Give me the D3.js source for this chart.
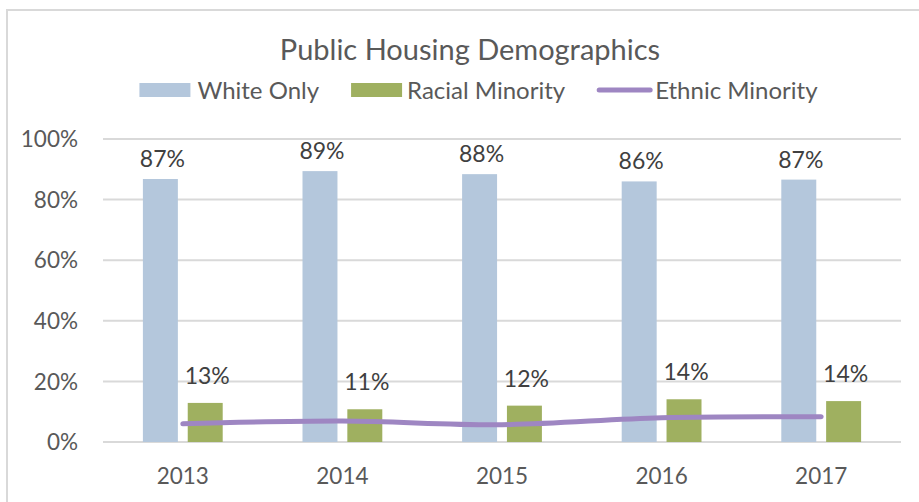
<!DOCTYPE html>
<html>
<head>
<meta charset="utf-8">
<script src="https://cdn.jsdelivr.net/npm/d3@7"></script>
<style>
  html, body { margin: 0; padding: 0; background: #fff; }
  svg { display: block; font-family: Lato, "Open Sans", sans-serif; }
  .grid line { stroke: #d9d9d9; stroke-width: 2; }
  .tick-label { fill: #595959; font-size: 22.5px; }
  .value-label { fill: #404040; font-size: 23px; text-anchor: middle; }
  .title { fill: #595959; font-size: 29px; text-anchor: middle; }
  .legend-label { fill: #595959; font-size: 24px; }
</style>
</head>
<body>
<script>
const years = ["2013", "2014", "2015", "2016", "2017"];
const whiteOnly = [0.868, 0.894, 0.884, 0.860, 0.866];
const racialMinority = [0.129, 0.108, 0.120, 0.141, 0.135];
const ethnicMinority = [0.060, 0.069, 0.057, 0.080, 0.083];
const whiteLabels = ["87%", "89%", "88%", "86%", "87%"];
const racialLabels = ["13%", "11%", "12%", "14%", "14%"];
const yTicks = [0, 0.2, 0.4, 0.6, 0.8, 1.0];
const seriesNames = ["White Only", "Racial Minority", "Ethnic Minority"];

const colors = { white: "#b4c7dc", racial: "#9fb060", ethnic: "#9e86c2" };

const width = 919, height = 502;
const plot = { left: 103, right: 901, top: 139, bottom: 442 };

const svg = d3.select("body").append("svg")
  .attr("width", width)
  .attr("height", height);

// chart frame
svg.append("rect")
  .attr("x", 7).attr("y", 10)
  .attr("width", width).attr("height", height)
  .attr("fill", "none")
  .attr("stroke", "#d9d9d9")
  .attr("stroke-width", 2);

const x = d3.scaleBand().domain(years).range([plot.left, plot.right]);
const y = d3.scaleLinear().domain([0, 1]).range([plot.bottom, plot.top]);

// clustered columns inside each category
const inner = d3.scaleBand()
  .domain(["white", "racial"])
  .range([-x.bandwidth() * 0.25, x.bandwidth() * 0.25])
  .paddingInner(0.22);

// gridlines
svg.append("g")
  .attr("class", "grid")
  .selectAll("line")
  .data(yTicks)
  .join("line")
  .attr("x1", plot.left).attr("x2", plot.right)
  .attr("y1", d => y(d)).attr("y2", d => y(d));

// y tick labels
svg.append("g")
  .selectAll("text")
  .data(yTicks)
  .join("text")
  .attr("class", "tick-label")
  .attr("x", 78)
  .attr("y", d => y(d))
  .attr("dy", "0.36em")
  .attr("text-anchor", "end")
  .text(d3.format(".0%"));

// x tick labels
svg.append("g")
  .selectAll("text")
  .data(years)
  .join("text")
  .attr("class", "tick-label")
  .attr("x", d => x(d) + x.bandwidth() / 2)
  .attr("y", 484)
  .attr("text-anchor", "middle")
  .text(d => d);

const cx = d => x(d) + x.bandwidth() / 2;

// bars
const bars = [
  { key: "white", values: whiteOnly, labels: whiteLabels, offset: 12 },
  { key: "racial", values: racialMinority, labels: racialLabels, offset: 19 }
];

bars.forEach(s => {
  svg.append("g")
    .selectAll("rect")
    .data(years)
    .join("rect")
    .attr("x", (d, i) => cx(d) + inner(s.key))
    .attr("y", (d, i) => y(s.values[i]))
    .attr("width", inner.bandwidth())
    .attr("height", (d, i) => y(0) - y(s.values[i]))
    .attr("fill", colors[s.key]);

  svg.append("g")
    .selectAll("text")
    .data(years)
    .join("text")
    .attr("class", "value-label")
    .attr("x", (d, i) => cx(d) + inner(s.key) + inner.bandwidth() / 2 + 2)
    .attr("y", (d, i) => y(s.values[i]) - s.offset)
    .text((d, i) => s.labels[i]);
});

// ethnic minority line
const line = d3.line()
  .x((d, i) => cx(years[i]))
  .y(d => y(d))
  .curve(d3.curveCatmullRom);

svg.append("path")
  .datum(ethnicMinority)
  .attr("d", line)
  .attr("fill", "none")
  .attr("stroke", colors.ethnic)
  .attr("stroke-width", 5)
  .attr("stroke-linecap", "round");

// title
svg.append("text")
  .attr("class", "title")
  .attr("x", 470)
  .attr("y", 60)
  .text("Public Housing Demographics");

// legend, laid out from measured text widths and centred
const legend = svg.append("g");
const items = [
  { name: seriesNames[0], type: "rect", color: colors.white, sw: 51, gap: 7 },
  { name: seriesNames[1], type: "rect", color: colors.racial, sw: 51, gap: 5 },
  { name: seriesNames[2], type: "line", color: colors.ethnic, sw: 55, gap: 3 }
];
let lx = 0;
items.forEach((it, i) => {
  const g = legend.append("g").attr("transform", `translate(${lx},0)`);
  if (it.type === "rect") {
    g.append("rect").attr("x", 0).attr("y", -7).attr("width", it.sw).attr("height", 14).attr("fill", it.color);
  } else {
    g.append("line").attr("x1", 2).attr("x2", it.sw - 2).attr("y1", 0).attr("y2", 0)
      .attr("stroke", it.color).attr("stroke-width", 5).attr("stroke-linecap", "round");
  }
  const t = g.append("text")
    .attr("class", "legend-label")
    .attr("x", it.sw + it.gap)
    .attr("y", 0)
    .attr("dy", "0.36em")
    .text(it.name);
  lx += it.sw + it.gap + t.node().getComputedTextLength() + 32;
});
const legendWidth = lx - 32;
legend.attr("transform", `translate(${478.5 - legendWidth / 2},90)`);
</script>
</body>
</html>
